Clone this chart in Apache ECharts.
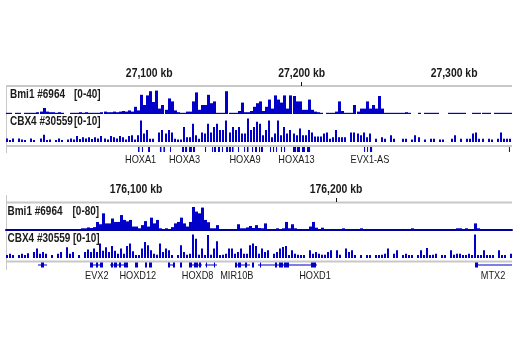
<!DOCTYPE html>
<html><head><meta charset="utf-8">
<script src="https://cdn.jsdelivr.net/npm/echarts@6/dist/echarts.min.js"></script>
<style>html,body{margin:0;padding:0;background:#fff}#c{width:520px;height:350px}</style>
</head><body><div id="c"></div>
<script>
// ---------- data ----------
const p1Range = [27006, 27338];   // kb shown in panel 1 (HOXA locus)
const p1BinKb = 2;
const p2Range = [176035, 176288]; // kb shown in panel 2 (HOXD locus)
const p2BinKb = 1.5;

const p1TickLabels = [27100, 27200, 27300];
const p1TickMarks = [27200];
const p2TickLabels = [176100, 176200];
const p2TickMarks = [176200];

const trackNames = ['Bmi1 #6964', 'CBX4 #30559'];
const p1TrackMax = [40, 10];
const p2TrackMax = [80, 10];

const p1Bmi1 = [2,2,0,2,2,0,2,2,2,2,3,4,10,4,3,3,2,3,2,0,0,2,2,2,3,2,3,2,2,2,
  2,3,4,3,3,4,3,4,5,4,6,4,12,6,32,15,31,38,20,39,9,15,7,26,21,6,3,2,2,4,
  4,21,36,7,15,15,32,18,21,2,2,2,38,2,2,2,5,19,3,3,5,12,18,21,5,12,24,9,31,24,
  19,31,9,31,30,21,21,7,7,24,7,4,3,2,0,2,2,2,4,21,5,2,2,2,15,4,9,9,21,9,
  15,9,30,9,2,2,2,2,2,2,2,3,2,0,0,2,0,2,2,2,2,2,0,0,0,2,2,2,2,2,
  2,0,0,2,2,2,2,2,2,0,2,2,2,2,2,2];
const p1Cbx4 = [1.5,0.8,1.5,0,1.5,1,0.8,0,1.5,0.8,0,1.5,3,0.8,1,0,0.8,1.5,0.8,0,
  1,1.5,1,2.5,1.2,2,1.5,2,1.2,2,1.5,2.5,1.5,1,2.5,2,1.5,2.5,2,1,
  2.5,2.8,1,2.8,9,3.5,5,1.4,1.4,0,4,5,3.5,5,4,1.4,1,1,6.3,2,
  2,7.6,2.8,1.4,4,3.5,7.6,4,6.3,7.6,5,5,9,4,6.3,5,6.3,3.5,3.5,9.8,
  5,6.3,8.4,7.6,2.8,5,9,2,3.5,9,2.8,6.3,3.5,5,3.5,2.8,5.6,2.8,2.8,5,
  4,2.3,2.3,2.3,3.5,4,1.4,2,5,2,2,2,0,4,4,3.5,2.8,4,2,3.5,
  0,1.4,0,2,1.4,0,2.8,1.4,0,0,1.4,1.4,0,1,2.8,2,0,1,0,1.4,
  1.4,0,1,1,0,0,1.4,2.8,0,1.4,0,1.4,1.4,3.5,4,1.4,1.4,0,1.4,1,
  0,1.4,4,1.4,1.4,1.4];
const p2Bmi1 = [0,0,0,0,0,0,0,0,0,0,0,0,0,0,0,0,0,0,0,0,0,0,0,0,0,
  6,6,9,7,10,28,20,58,23,23,40,28,28,52,35,30,35,12,12,6,17,31,12,43,23,
  35,6,3,6,3,10,23,28,43,23,12,28,80,64,58,78,35,27,6,6,17,
  0,0,0,0,0,0,
  20,6,6,9,14,7,17,7,6,23,0,0,0,6,0,6,28,6,20,6,
  0,0,0,0,12,28,8,3,8,0,0,0,0,0,0,6,0,0,0,0,0,6,
  0,0,0,0,0,0,0,0,0,0,0,0,0,0,0,0,6,
  0,0,0,0,0,0,0,0,0,0,0,0,0,0,
  6,6,0,6,0,0,23,6,
  0,0,0,0,0,0,0,0,0,0,0];
const p2Cbx4 = [1.2,1.8,1.2,0,1.2,1.8,1.2,2,0,2.5,4,1.8,2.5,1.8,0,1.2,0,1.8,2.5,0,
  4.5,1.8,2.5,0,1.2,0,2.5,3.5,2.5,4,2.5,6,3,4.5,2.5,5,3,1.8,4,1.8,
  5,6,2.8,1.2,1.2,4,6.7,5.3,3.2,1.8,1.4,6,2.5,4,3.2,1.2,0,1.2,5.3,2.5,
  1.4,1.8,9.8,8,1.4,4,1.2,9.6,1.4,4,7,1.2,1.4,1.8,4,4,1.8,2.5,4,1.8,
  1.8,5.3,6,5,1.8,4,2.5,3.2,0,1.8,2.5,4,4.6,5,1.2,3.2,1.8,1.4,1.2,1.2,
  0,3.2,1.8,2.5,1.8,1.4,1.4,2.5,3.2,0,3.2,1.4,0,4,2.5,3.2,1.2,0,1.2,0,
  1.2,1.2,0,1.2,1.2,1.4,1.8,4,0,1.8,3.2,0,1.2,1.8,1.2,1.2,0,1.2,3.2,1.2,
  4.2,1.2,1.4,1.8,0,1.2,1.2,0,3.2,1.4,1.8,1.8,1.2,1.2,1.8,1.2,9.8,1.2,1.2,3.2,
  1.2,1.2,1.2,0,3.2,1.2,1.2,0,1.8];

// gene features: [start kb, end kb, kind]  kind 1 = exon block, 0 = intron line
const p1Genes = [[27092.6,27093.6,1],[27095.2,27095.9,1],[27099.2,27100.5,1],[27107,27108,1],
  [27109.3,27110.3,1],[27113.6,27114.1,1],[27121.5,27122.8,1],[27123.5,27124.8,1],
  [27126.1,27128,1],[27128.7,27130,1],[27136.6,27137,1],[27141.2,27141.8,1],
  [27142.5,27143.8,1],[27145.1,27146.4,1],[27147.7,27148.4,1],[27150.4,27151.7,1],
  [27152.3,27153.6,1],[27154.3,27155.3,1],[27158.2,27158.9,1],[27162.2,27162.8,1],
  [27164.1,27165.1,1],[27167.4,27168.1,1],[27169.4,27170.7,1],[27172,27172.7,1],
  [27173.3,27174.6,1],[27179.2,27179.9,1],[27181.2,27181.9,1],[27183.2,27183.8,1],
  [27186.4,27187.1,1],[27188.4,27189.1,1],[27194.3,27196.3,1],[27196.9,27198.9,1],
  [27200.2,27202.2,1],[27203.5,27205.5,1],[27240.9,27241.6,1],[27242.9,27243.5,1],
  [27244.8,27246.2,1],[27336,27336.6,1]];
const p1GeneNames = ['HOXA1','HOXA3','HOXA9','HOXA13','EVX1-AS'];
const p1GenePos = [27094.3, 27123.1, 27162.8, 27196.6, 27244.8];

const p2Genes = [[176051,176055.5,0],[176052.5,176054,1],
  [176077,176083.5,0],[176077,176078.5,1],[176080,176081,1],[176082,176083.5,1],
  [176087,176096,0],[176087.5,176088.5,1],[176089,176090.5,1],[176091.5,176092.5,1],[176094,176096,1],
  [176099.5,176101,1],[176104.5,176105.5,1],[176106.5,176108,1],
  [176116,176119.5,0],[176116,176117,1],[176118.5,176119.5,1],[176122,176123,1],
  [176126.5,176133,0],[176126.5,176128,1],[176129,176131,1],[176131.5,176132.5,1],
  [176134.5,176140.5,0],[176135,176135.5,1],[176139,176139.5,1],
  [176149.5,176157,0],[176149.5,176150.5,1],[176151,176152.5,1],[176154.5,176155.5,1],[176158,176159,1],
  [176161,176190.5,0],[176162,176162.5,1],[176169.5,176170.5,1],[176171.5,176173.5,1],
  [176174,176176.5,1],[176187.5,176190,1],
  [176269.5,176271,1],[176269.5,176288,0]];
const p2GeneNames = ['EVX2','HOXD12','HOXD8','MIR10B','HOXD1','MTX2'];
const p2GenePos = [176080.4, 176100.9, 176130.8, 176150.4, 176189.5, 176278.5];

// ---------- chart ----------
const BLUE = '#0000c8';
const GRAY = '#c8c8c8';
const TEXT = '#1a1a1a';
const LEFT = 6, WIDTH = 506;
const FAM = '"Liberation Sans",Arial,Helvetica,sans-serif';
const NARROW = 0.8;

const grids = [
  {top: 83, height: 3},   // 0 ruler 1
  {top: 90, height: 24},  // 1 Bmi1 p1
  {top: 118, height: 24}, // 2 CBX4 p1
  {top: 147, height: 5},  // 3 genes p1
  {top: 199, height: 3},  // 4 ruler 2
  {top: 207, height: 23}, // 5 Bmi1 p2
  {top: 234, height: 24}, // 6 CBX4 p2
  {top: 262.5, height: 5} // 7 genes p2
].map(g => Object.assign({left: LEFT, width: WIDTH, containLabel: false}, g));

function hiddenX(gi, range, extra) {
  return Object.assign({gridIndex: gi, type: 'value', min: range[0], max: range[1], show: false,
    splitLine: {show: false}}, extra || {});
}
function rulerX(gi, range, marks) {
  return {gridIndex: gi, type: 'value', min: range[0], max: range[1], position: 'top',
    axisLine: {show: false}, splitLine: {show: false},
    axisTick: {show: true, customValues: marks, length: 4, lineStyle: {color: '#111', width: 1}},
    axisLabel: {show: false}};
}
const xAxes = [
  rulerX(0, p1Range, p1TickMarks),
  hiddenX(1, p1Range), hiddenX(2, p1Range), hiddenX(3, p1Range),
  rulerX(4, p2Range, p2TickMarks),
  hiddenX(5, p2Range, {show: true, axisLine: {show: true, lineStyle: {color: '#00009a', width: 2}},
    axisTick: {show: false}, axisLabel: {show: false}}),
  hiddenX(6, p2Range), hiddenX(7, p2Range)
];
const yMax = [1, p1TrackMax[0], p1TrackMax[1], 1, 1, p2TrackMax[0], p2TrackMax[1], 1];
const yAxes = yMax.map((m, i) => ({gridIndex: i, type: 'value', min: 0, max: m, show: false, splitLine: {show: false}}));

function coverage(gi, start, bin, values, frac) {
  return {type: 'custom', xAxisIndex: gi, yAxisIndex: gi, silent: true, clip: true,
    data: values.map((v, i) => [start + i * bin, start + (i + 1) * bin, v]),
    encode: {x: [0, 1], y: 2},
    renderItem: (params, api) => {
      const v = api.value(2);
      if (!v) return null;
      const a = api.coord([api.value(0), v]);
      const b = api.coord([api.value(1), 0]);
      const x0 = Math.round(a[0]);
      const w = Math.max(1, Math.round((b[0] - a[0]) * frac));
      return {type: 'rect', shape: {x: x0, y: a[1], width: w, height: b[1] - a[1]}, style: {fill: BLUE}};
    }};
}
function genes(gi, feats) {
  return {type: 'custom', xAxisIndex: gi, yAxisIndex: gi, silent: true, clip: false,
    data: feats, encode: {x: [0, 1]},
    renderItem: (params, api) => {
      const a = api.coord([api.value(0), 0]);
      const b = api.coord([api.value(1), 0]);
      const cs = params.coordSys;
      const w = Math.max(1, b[0] - a[0]);
      if (api.value(2) === 1)
        return {type: 'rect', shape: {x: a[0], y: cs.y, width: w, height: cs.height}, style: {fill: BLUE}};
      return {type: 'rect', shape: {x: a[0], y: cs.y + cs.height / 2 - 0.5, width: w, height: 1}, style: {fill: BLUE}};
    }};
}
// text labels placed through the axis scale (gene names, ruler labels)
function axisTexts(gi, texts, pos, dy, font) {
  return {type: 'custom', xAxisIndex: gi, yAxisIndex: gi, silent: true, clip: false,
    data: pos.map((p, i) => [p, 0]), encode: {x: 0},
    renderItem: (params, api) => {
      const a = api.coord([api.value(0), 0]);
      const cs = params.coordSys;
      return {type: 'text', x: a[0], y: cs.y + dy, scaleX: NARROW,
        style: {text: texts[params.dataIndex], fill: TEXT, align: 'center', verticalAlign: 'middle', font: font}};
    }};
}
const kb = v => v.toLocaleString('en-US') + ' kb';

const series = [
  coverage(1, p1Range[0], p1BinKb, p1Bmi1, 1),
  coverage(2, p1Range[0], p1BinKb, p1Cbx4, 0.7),
  genes(3, p1Genes),
  axisTexts(3, p1GeneNames, p1GenePos, 13, '11.5px ' + FAM),
  axisTexts(0, p1TickLabels.map(kb), p1TickLabels, -10, 'bold 13px ' + FAM),
  coverage(5, p2Range[0], p2BinKb, p2Bmi1, 1),
  coverage(6, p2Range[0], p2BinKb, p2Cbx4, 0.7),
  genes(7, p2Genes),
  axisTexts(7, p2GeneNames, p2GenePos, 13, '11.5px ' + FAM),
  axisTexts(4, p2TickLabels.map(kb), p2TickLabels, -10, 'bold 13px ' + FAM)
];

function trackLabel(name, max, y, nx, bx) {
  const f = 'bold 12.5px ' + FAM;
  return [
    {type: 'text', x: nx, y: y, scaleX: 0.8, silent: true,
      style: {text: name, font: f, fill: TEXT, verticalAlign: 'middle'}},
    {type: 'text', x: bx, y: y, scaleX: 0.8, silent: true,
      style: {text: '[0-' + max + ']', font: f, fill: TEXT, verticalAlign: 'middle'}}
  ];
}
function hLine(y, x1, x2, w, c) {
  return {type: 'line', shape: {x1: x1, y1: y, x2: x2, y2: y}, style: {stroke: c, lineWidth: w}, silent: true};
}
function vLine(x, y1, y2, w, c) {
  return {type: 'line', shape: {x1: x, y1: y1, x2: x, y2: y2}, style: {stroke: c, lineWidth: w}, silent: true};
}
const graphics = [
  hLine(86, 6, 512, 2, GRAY), hLine(146, 6, 512, 2, GRAY), vLine(6.5, 86, 153, 1, GRAY),
  hLine(202.5, 6, 512, 2, GRAY), hLine(261.5, 6, 512, 2, GRAY), vLine(6.5, 195, 270, 1, GRAY),
  ...trackLabel(trackNames[0], p1TrackMax[0], 95, 10, 74),
  ...trackLabel(trackNames[1], p1TrackMax[1], 122, 10, 74),
  ...trackLabel(trackNames[0], p2TrackMax[0], 211.5, 7.5, 72.5),
  ...trackLabel(trackNames[1], p2TrackMax[1], 238.5, 7.5, 73)
];

const chart = echarts.init(document.getElementById('c'), null, {renderer: 'canvas'});
chart.setOption({
  animation: false,
  backgroundColor: '#fff',
  grid: grids, xAxis: xAxes, yAxis: yAxes, series: series,
  graphic: graphics
});
</script></body></html>
